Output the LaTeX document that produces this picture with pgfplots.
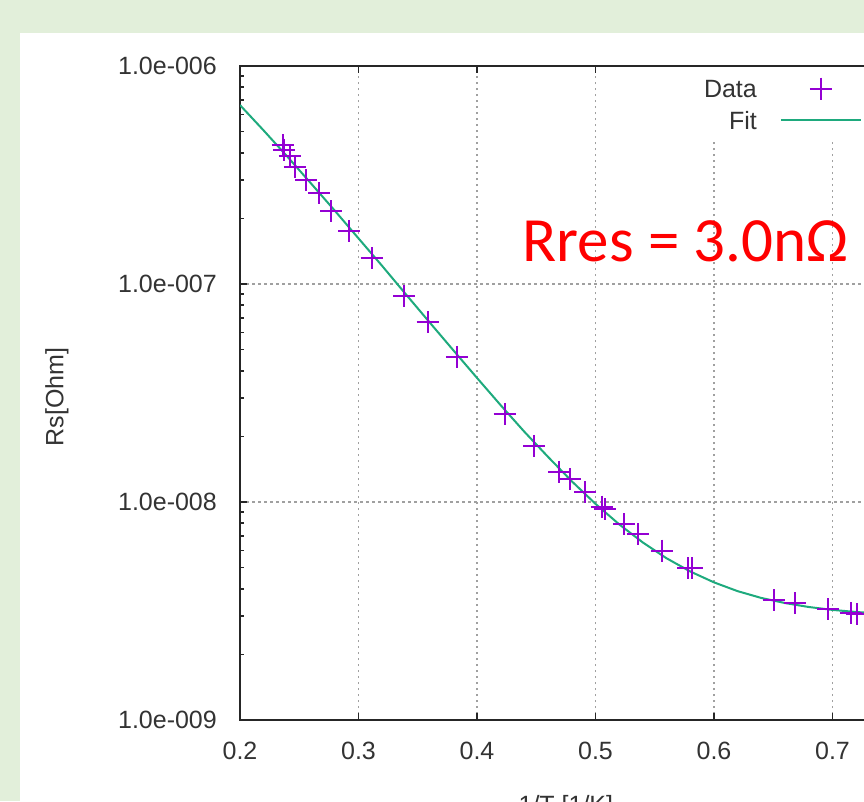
\documentclass[border=0pt]{standalone}
\usepackage{fontspec}
\setmainfont{Liberation Sans}
\newfontfamily\carlito{Carlito}
\usepackage{pgfplots}
\pgfplotsset{compat=1.18}
\definecolor{bggreen}{RGB}{226,239,218}
\definecolor{datacol}{RGB}{148,0,211}
\definecolor{fitcol}{RGB}{30,170,125}
\definecolor{gridcol}{RGB}{160,160,160}
\definecolor{redtxt}{RGB}{255,0,0}
\pgfplotsset{
  datalegend/.style={legend image code/.code={\draw[##1] plot coordinates {(40pt,0pt)};}},
  fitlegend/.style={legend image code/.code={\draw[##1] (0pt,0pt) -- (80pt,0pt);}},
}
\begin{document}
\begin{tikzpicture}
\useasboundingbox (0,0) rectangle (864pt,801pt);
\clip (0,0) rectangle (864pt,801pt);
\fill[bggreen] (0,0) rectangle (864pt,801pt);
\fill[white] (20pt,0) rectangle (864pt,768pt);
\begin{axis}[
  at={(240pt,81pt)}, anchor=south west,
  scale only axis, width=651.75pt, height=654pt,
  xmin=0.2, xmax=0.75, ymin=1e-9, ymax=1e-6, ymode=log,
  xtick={0.2,0.3,0.4,0.5,0.6,0.7},
  xticklabels={0.2,0.3,0.4,0.5,0.6,0.7},
  ytick={1e-9,1e-8,1e-7,1e-6},
  yticklabels={1.0e-009,1.0e-008,1.0e-007,1.0e-006},
  minor ytick={2e-9,3e-9,4e-9,5e-9,6e-9,7e-9,8e-9,9e-9,2e-8,3e-8,4e-8,5e-8,6e-8,7e-8,8e-8,9e-8,2e-7,3e-7,4e-7,5e-7,6e-7,7e-7,8e-7,9e-7},
  tick align=inside, major tick length=7pt, minor tick length=4pt,
  axis line style={line width=1.8pt, black!85},
  every tick/.style={line width=1.6pt, black!85},
  grid=major,
  major grid style={line width=1.4pt, gridcol, dash pattern=on 2.5pt off 3.5pt},
  tick label style={font=\fontsize{25}{30}\selectfont, text=black!80},
  yticklabel style={anchor=east, inner sep=0pt, xshift=-23pt},
  xticklabel style={anchor=north, inner sep=0pt, yshift=-22pt},
  xlabel={1/T [1/K]}, ylabel={Rs[Ohm]},
  every axis x label/.style={at={(axis description cs:0.5,-0.1147)}, anchor=north, inner sep=0pt,
    font=\fontsize{25}{30}\selectfont, text=black!80},
  every axis y label/.style={at={(axis description cs:-0.2808,0.4939)}, rotate=90, anchor=center, inner sep=0pt,
    font=\fontsize{25}{30}\selectfont, text=black!80},
  legend plot pos=right, legend cell align=right,
  legend style={draw=none, fill=white, at={(axis description cs:0.95436,0.99924)}, anchor=north east,
    inner xsep=0pt, inner ysep=11pt, font=\fontsize{25}{30}\selectfont, text=black!80,
    nodes={inner sep=0pt, text height=18pt, text depth=0pt},
    row sep=11.5pt, column sep=23pt},
]
\addplot[only marks, mark=+, mark size=11pt, datacol, mark options={line width=2pt}, datalegend]
coordinates {
(0.2359,4.34e-7) (0.2371,4.12e-7) (0.2418,3.87e-7) (0.2464,3.44e-7)
(0.2557,3.00e-7) (0.2667,2.62e-7) (0.2768,2.16e-7) (0.2920,1.75e-7)
(0.3111,1.31e-7) (0.3387,8.81e-8) (0.3584,6.67e-8) (0.3831,4.63e-8)
(0.4234,2.53e-8) (0.4481,1.81e-8) (0.4695,1.38e-8) (0.4785,1.27e-8)
(0.4914,1.11e-8) (0.5052,9.52e-9) (0.5080,9.26e-9) (0.5243,7.93e-9)
(0.5356,7.13e-9) (0.5564,5.98e-9) (0.5783,4.96e-9) (0.5817,4.96e-9)
(0.6506,3.55e-9) (0.6684,3.43e-9) (0.6962,3.22e-9) (0.7156,3.09e-9)
(0.7207,3.05e-9)
};
\addlegendentry{Data}
\addplot[no marks, fitcol, line width=2pt, fitlegend]
coordinates {
(0.20,6.62e-7) (0.22,5.06e-7) (0.24,3.84e-7) (0.26,2.89e-7) (0.28,2.17e-7)
(0.30,1.62e-7) (0.32,1.21e-7) (0.34,8.97e-8) (0.36,6.67e-8) (0.38,4.97e-8)
(0.40,3.71e-8) (0.42,2.78e-8) (0.44,2.10e-8) (0.46,1.61e-8) (0.48,1.245e-8)
(0.50,9.81e-9) (0.52,7.90e-9) (0.54,6.52e-9) (0.56,5.52e-9) (0.58,4.80e-9)
(0.60,4.28e-9) (0.62,3.90e-9) (0.64,3.63e-9) (0.66,3.44e-9) (0.68,3.30e-9)
(0.70,3.20e-9) (0.72,3.13e-9) (0.74,3.08e-9) (0.75,3.06e-9)
};
\addlegendentry{Fit}
\end{axis}
\node[anchor=base, inner sep=0pt, text=redtxt, font=\carlito\fontsize{63}{70}\selectfont] at (685.5pt,539pt) {Rres = 3.0nΩ};
\end{tikzpicture}
\end{document}
